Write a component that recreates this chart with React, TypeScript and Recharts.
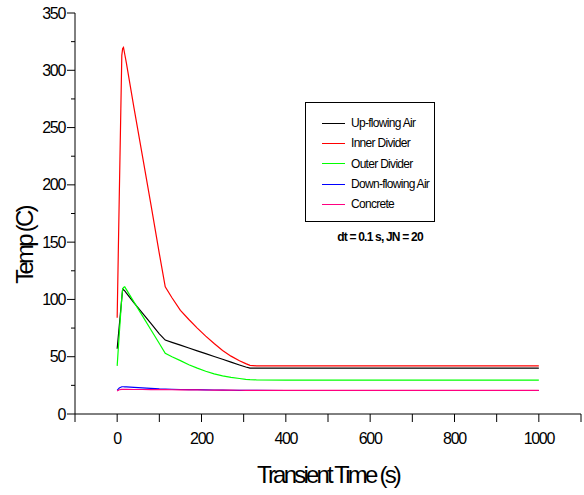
import { LineChart, Line, XAxis, YAxis, Legend } from "recharts";

const FONT = "'Liberation Sans', Arial, sans-serif";

const TIME = [0, 5, 11, 13, 15, 18, 22, 40, 60, 80, 100, 114, 130, 150, 170, 190, 210, 230, 250, 270, 290, 305, 315, 330, 400, 600, 800, 1000];
const UP_AIR = [57, 77, 101, 109, 108.5, 107.5, 105.5, 97, 88, 79, 70, 64.5, 62.5, 60.1, 57.6, 55.1, 52.7, 50.2, 47.8, 45.3, 42.8, 41, 40, 40, 40, 40, 40, 40];
const INNER_DIVIDER = [84, 190, 313, 319, 320, 314, 306, 267, 225, 183, 140, 111, 101.5, 90.5, 82.5, 75, 68, 61.5, 55.5, 50.5, 46.5, 44, 42.5, 42, 42, 42, 42, 42];
const OUTER_DIVIDER = [42, 70, 102, 109, 110.5, 111, 108.6, 97.7, 85.6, 73.5, 61.5, 53, 50, 46.6, 43, 40, 37.3, 35, 33.3, 32, 31, 30.3, 30, 29.8, 29.5, 29.5, 29.5, 29.5];
const DOWN_AIR = [20.6, 22.8, 23.8, 23.8, 23.8, 23.7, 23.6, 23.2, 22.8, 22.3, 21.9, 21.8, 21.6, 21.4, 21.3, 21.2, 21.05, 20.95, 20.85, 20.75, 20.7, 20.65, 20.6, 20.6, 20.5, 20.5, 20.5, 20.5];
const CONCRETE = [20, 21.2, 21.5, 21.5, 21.5, 21.5, 21.5, 21.4, 21.4, 21.3, 21.3, 21.2, 21.15, 21.1, 21.05, 21, 20.95, 20.9, 20.85, 20.8, 20.75, 20.7, 20.7, 20.7, 20.6, 20.6, 20.6, 20.6];

const X_TICKS = [-100, 0, 100, 200, 300, 400, 500, 600, 700, 800, 900, 1000, 1100];
const Y_TICKS = [0, 25, 50, 75, 100, 125, 150, 175, 200, 225, 250, 275, 300, 325, 350];

const SERIES = [
  { key: "upAir", name: "Up-flowing Air", color: "#000000", values: UP_AIR },
  { key: "inner", name: "Inner Divider", color: "#ff0000", values: INNER_DIVIDER },
  { key: "outer", name: "Outer Divider", color: "#00ff00", values: OUTER_DIVIDER },
  { key: "downAir", name: "Down-flowing Air", color: "#0000ff", values: DOWN_AIR },
  { key: "concrete", name: "Concrete", color: "#ff0080", values: CONCRETE },
];

const data = TIME.map((t, i) => {
  const row: Record<string, number> = { t };
  SERIES.forEach((s) => (row[s.key] = s.values[i]));
  return row;
});

// y ticks: long ones with labels every 50, short ones in between
const YTick = ({ x, y, payload }: any) => {
  const axisX = x + 10;
  const major = payload.value % 50 === 0;
  return (
    <g>
      <line x1={axisX - (major ? 8 : 4)} x2={axisX} y1={y} y2={y} stroke="#000" />
      {major && (
        <text x={x} y={y} dy={5.5} textAnchor="end" fontSize={16} letterSpacing={-1.3} fontFamily={FONT} fill="#000">
          {payload.value}
        </text>
      )}
    </g>
  );
};

const YTitle = ({ viewBox }: any) => {
  const cx = viewBox.x + 33;
  const cy = viewBox.y + viewBox.height / 2 + 32;
  return (
    <text x={cx} y={cy} textAnchor="middle" fontSize={24} letterSpacing={-2.8} fontFamily={FONT} fill="#000" transform={`rotate(-90 ${cx} ${cy})`}>
      Temp (C)
    </text>
  );
};

const LegendBox = () => (
  <div style={{ fontFamily: FONT, color: "#000", fontSize: 12, letterSpacing: -0.7 }}>
    <div style={{ border: "1px solid #000", width: 130, height: 120, boxSizing: "border-box", paddingTop: 10 }}>
      {SERIES.map((s) => (
        <div key={s.key} style={{ display: "flex", alignItems: "center", height: 20.3 }}>
          <span style={{ width: 23, borderTop: `1.2px solid ${s.color}`, marginLeft: 16, marginRight: 6 }} />
          <span style={{ color: "#000" }}>{s.name}</span>
        </div>
      ))}
    </div>
    <div style={{ textAlign: "center", fontWeight: "bold", marginTop: 8, paddingLeft: 10, letterSpacing: -0.8, color: "#000" }}>
      dt = 0.1 s, JN = 20
    </div>
  </div>
);

export default function App() {
  return (
    <div style={{ position: "absolute", left: 0, top: 0, background: "#fff" }}>
      <LineChart width={584} height={495} data={data} margin={{ top: 13, right: 3, bottom: 0, left: 0 }}>
        <XAxis
          type="number"
          dataKey="t"
          domain={[-100, 1100]}
          ticks={X_TICKS}
          interval={0}
          tickSize={8}
          tickMargin={11}
          stroke="#000"
          tick={{ fontSize: 16, letterSpacing: -1.3, fill: "#000", fontFamily: FONT }}
          tickFormatter={(v: number) => (v >= 0 && v <= 1000 && v % 200 === 0 ? String(v) : "")}
          height={81}
          label={{ value: "Transient Time (s)", position: "insideBottom", offset: 12, fontSize: 24, letterSpacing: -2.8, fill: "#000", fontFamily: FONT }}
        />
        <YAxis
          type="number"
          domain={[0, 350]}
          ticks={Y_TICKS}
          interval={0}
          width={75}
          tickSize={8}
          tickMargin={2}
          tickLine={false}
          stroke="#000"
          tick={<YTick />}
          label={<YTitle />}
        />
        <Legend
          layout="horizontal"
          verticalAlign="middle"
          align="center"
          content={() => <LegendBox />}
          wrapperStyle={{ left: 305, top: 102, width: 140 }}
        />
        {SERIES.map((s) => (
          <Line
            key={s.key}
            dataKey={s.key}
            name={s.name}
            stroke={s.color}
            strokeWidth={1.2}
            dot={false}
            type="linear"
            isAnimationActive={false}
          />
        ))}
      </LineChart>
    </div>
  );
}
